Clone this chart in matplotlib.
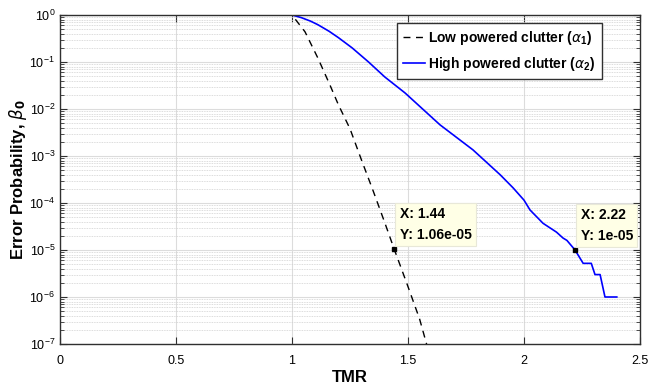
import matplotlib
matplotlib.use("Agg")
import matplotlib.pyplot as plt
from matplotlib.ticker import LogLocator, NullFormatter

plt.rcParams["font.family"] = ["Liberation Sans Narrow", "Liberation Sans", "DejaVu Sans"]
plt.rcParams["mathtext.default"] = "regular"

# low powered clutter (alpha_1), dashed black
low_x = [0.0, 1.0, 1.056, 1.112, 1.164, 1.20, 1.25, 1.30, 1.35, 1.40, 1.44, 1.50, 1.55, 1.58, 1.60]
low_y = [1.0, 1.0, 0.44, 0.12, 0.032, 0.0123, 3.8e-3, 8.1e-4, 1.8e-4, 3.8e-5, 1.06e-5,
         1.66e-6, 3.4e-7, 1.0e-7, 5.0e-8]

# high powered clutter (alpha_2), solid blue
high_x = [0.0, 1.0, 1.04, 1.08, 1.112, 1.16, 1.20, 1.259, 1.33, 1.40, 1.487, 1.638, 1.78, 1.897,
          1.953, 2.0, 2.026, 2.082, 2.14, 2.168, 2.185, 2.22, 2.255, 2.29, 2.306, 2.328, 2.349,
          2.40]
high_y = [1.0, 1.0, 0.88, 0.74, 0.62, 0.45, 0.33, 0.20, 0.10, 0.048, 0.022, 4.6e-3, 1.35e-3,
          4.0e-4, 2.1e-4, 1.15e-4, 7.1e-5, 3.7e-5, 2.4e-5, 1.8e-5, 1.6e-5, 1.0e-5, 5.2e-6,
          5.2e-6, 3.0e-6, 3.0e-6, 1.0e-6, 1.0e-6]

# data tips
tip_x = [1.44, 2.22]
tip_y = [1.06e-5, 1e-5]
tip_text = ["X: 1.44\nY: 1.06e-05", "X: 2.22\nY: 1e-05"]

fig = plt.figure(figsize=(6.62, 3.9), dpi=100)
ax = fig.add_axes([60 / 662, 1 - 344 / 390, 580 / 662, 329 / 390])

ax.plot(low_x, low_y, color="black", lw=1.0, ls=(0, (5, 4)),
        label=r"Low powered clutter ($\mathit{\alpha}_1$)")
ax.plot(high_x, high_y, color="#0000ff", lw=1.2,
        label=r"High powered clutter ($\mathit{\alpha}_2$)")

ax.set_yscale("log")
ax.set_xlim(0, 2.5)
ax.set_ylim(1e-7, 1)
ax.set_xticks([0, 0.5, 1, 1.5, 2, 2.5])
ax.set_xticklabels(["0", "0.5", "1", "1.5", "2", "2.5"])
ax.yaxis.set_major_locator(LogLocator(base=10, numticks=10))
ax.yaxis.set_minor_locator(LogLocator(base=10, subs=range(2, 10), numticks=20))
ax.yaxis.set_minor_formatter(NullFormatter())

ax.grid(True, which="major", color="#dcdcdc", lw=0.8)
ax.grid(True, which="minor", axis="y", color="#d0d0d0", lw=0.6, ls=(0, (1, 1)))
ax.set_axisbelow(True)

ax.tick_params(which="both", direction="in", top=True, right=True, labelsize=9,
               color="#303030")
ax.tick_params(which="major", length=5)
ax.tick_params(which="minor", length=3)
ax.tick_params(axis="x", pad=8)
for s in ax.spines.values():
    s.set_color("#303030")
    s.set_linewidth(1.0)

ax.set_xlabel("TMR", fontsize=12, fontweight="bold", family=["Liberation Sans", "DejaVu Sans"])
ax.set_ylabel(r"Error Probability, $\mathit{\beta}_{\mathbf{0}}$", fontsize=12,
              fontweight="bold", family=["Liberation Sans", "DejaVu Sans"])
ax.xaxis.set_label_coords(0.5, -0.08)
ax.yaxis.set_label_coords(-0.053, 0.5)

for tx, ty, tt in zip(tip_x, tip_y, tip_text):
    ax.plot([tx], [ty], marker="s", ms=3.5, color="black", ls="none")
    ax.annotate(tt, (tx, ty), xytext=(4, 5), textcoords="offset points",
                ha="left", va="bottom", fontsize=10, fontweight="bold", linespacing=1.6,
                bbox=dict(boxstyle="square,pad=0.3", fc="#ffffe6", ec="#e8e8d8", lw=0.8))

leg = ax.legend(loc="upper left", bbox_to_anchor=(397 / 662, 1 - 23 / 390),
                bbox_transform=fig.transFigure, borderaxespad=0,
                prop={"weight": "bold", "size": 10}, handlelength=1.6, handletextpad=0.2,
                borderpad=0.45, labelspacing=0.55, fancybox=False, framealpha=1)
leg.get_frame().set_edgecolor("#303030")
leg.get_frame().set_linewidth(1.0)

fig.savefig("out.png", dpi=100)
